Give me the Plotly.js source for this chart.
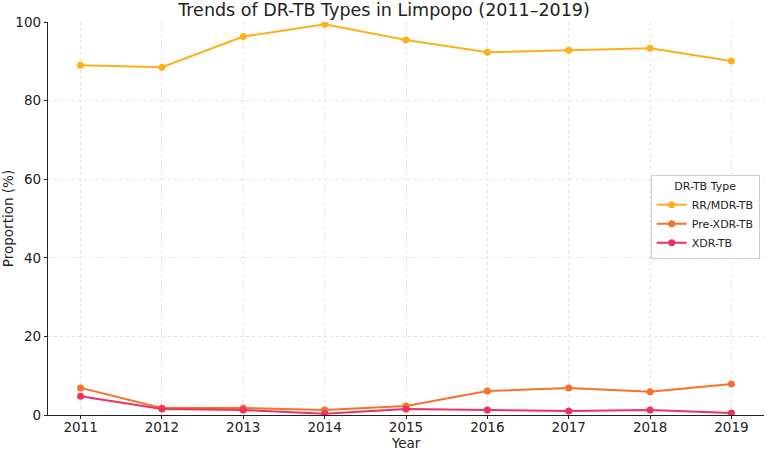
<!DOCTYPE html>
<html>
<head>
<meta charset="utf-8">
<script src="https://cdn.plot.ly/plotly-3.0.1.min.js"></script>
<style>html,body{margin:0;padding:0;background:#fff;}#chart{width:768px;height:451px;}</style>
</head>
<body>
<div id="chart"></div>
<script>
const years = [2011, 2012, 2013, 2014, 2015, 2016, 2017, 2018, 2019];
const rrMdr = [89.0, 88.5, 96.3, 99.4, 95.4, 92.3, 92.8, 93.3, 90.1];
const preXdr = [6.9, 1.8, 1.8, 1.3, 2.3, 6.1, 6.9, 5.9, 7.9];
const xdr = [4.8, 1.5, 1.3, 0.3, 1.5, 1.3, 1.0, 1.3, 0.5];
const seriesNames = ["RR/MDR-TB", "Pre-XDR-TB", "XDR-TB"];
const colors = ["#FDB01A", "#F6712A", "#EE3062"];
const seriesValues = [rrMdr, preXdr, xdr];

const font = "DejaVu Sans, sans-serif";
const traces = seriesValues.map((vals, i) => ({
  x: years, y: vals, name: seriesNames[i], type: "scatter", mode: "lines+markers",
  line: {color: colors[i], width: 2}, marker: {color: colors[i], size: 7}
}));

const gridStyle = {showgrid: true, gridcolor: "#e2e2e2", griddash: "3px,3px", gridwidth: 1};
const layout = {
  width: 768, height: 451,
  margin: {l: 48, r: 4, t: 22, b: 36},
  paper_bgcolor: "#fff", plot_bgcolor: "#fff",
  font: {family: font, size: 12, color: "#222"},
  title: {text: "Trends of DR-TB Types in Limpopo (2011–2019)", font: {family: font, size: 17.5, color: "#222"}, x: 0.5, xanchor: "center", y: 0.978, yanchor: "middle"},
  xaxis: Object.assign({
    range: [2010.6, 2019.4], tickvals: years, ticktext: years.map(String),
    showline: true, linecolor: "#222", linewidth: 1.2, ticks: "outside", ticklen: 3, tickcolor: "#222",
    zeroline: false, tickfont: {size: 13.5}, ticklabelstandoff: -3,
    title: {text: "Year", font: {size: 13.5}, standoff: 2}
  }, gridStyle),
  yaxis: Object.assign({
    range: [0, 100], tickvals: [0, 20, 40, 60, 80, 100],
    showline: true, linecolor: "#222", linewidth: 1.2, ticks: "outside", ticklen: 3, tickcolor: "#222",
    zeroline: false, tickfont: {size: 13.5},
    title: {text: "Proportion (%)", font: {size: 13.5}, standoff: 6}
  }, gridStyle),
  legend: {
    x: 0.994, xanchor: "right", y: 0.504, yanchor: "middle",
    bgcolor: "rgba(255,255,255,0.9)", bordercolor: "#d0d0d0", borderwidth: 1,
    font: {size: 11}, title: {text: "DR-TB Type", side: "top center", font: {size: 11}},
    tracegroupgap: 0, itemwidth: 30
  },
  showlegend: true
};
Plotly.newPlot("chart", traces, layout, {displayModeBar: false, staticPlot: true});
</script>
</body>
</html>
